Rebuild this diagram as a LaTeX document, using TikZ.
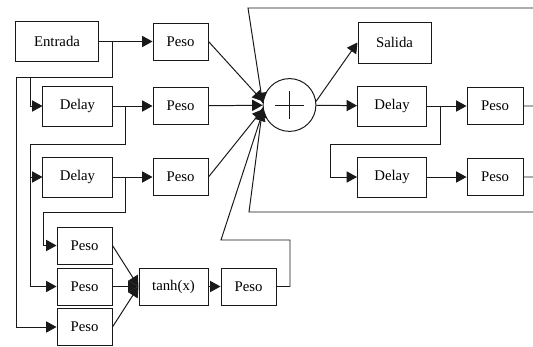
\documentclass[tikz,border=0pt]{standalone}
\usepackage{fontspec}
\setmainfont{Liberation Serif}
\usetikzlibrary{arrows.meta}
\usetikzlibrary{positioning}

\begin{document}
\begin{tikzpicture}[x=0.025cm,y=-0.025cm,
  caja/.style={draw=black!90,line width=0.7pt,inner sep=0pt,font=\fontsize{10.5}{12}\selectfont},
  peso/.style={caja,minimum width=1.375cm,minimum height=0.925cm},
  retardo/.style={caja,minimum width=1.725cm,minimum height=1cm},
  linea/.style={black!90,line width=0.7pt},
  flecha/.style={linea,-{Triangle[length=2.6mm,width=2.8mm]}}]
\clip (0,0) rectangle (533,347);
\fill[white] (0,0) rectangle (533,347);

\node[caja,minimum width=2.05cm,minimum height=1cm] (entrada) at (57,41.5) {Entrada};
\node[peso] (peso1) at (180.5,41.5) {Peso};
\node[retardo] (delay1) at (77.5,106) {Delay};
\node[peso] (peso2) at (180.5,106) {Peso};
\node[retardo] (delay2) at (77.5,177) {Delay};
\node[peso] (peso3) at (180.5,177) {Peso};
\node[peso] (peso4) at (84.5,245.5) {Peso};
\node[peso] (peso5) at (84.5,286.5) {Peso};
\node[peso] (peso6) at (84.5,327) {Peso};
\node[retardo,minimum height=0.925cm] (tanh) at (173.5,286.5) {tanh(x)};
\node[peso] (peso7) at (248.5,286.5) {Peso};
\node[circle,draw=black!90,line width=0.7pt,minimum size=1.32cm,inner sep=0pt] (suma) at (289.5,105) {};
\draw[linea] ([xshift=-0.35cm]suma.center) -- ([xshift=0.35cm]suma.center);
\draw[linea] ([yshift=-0.35cm]suma.center) -- ([yshift=0.35cm]suma.center);
\node[caja,minimum width=1.825cm,minimum height=1.025cm] (salida) at (394.5,42.5) {Salida};
\node[retardo] (delay3) at (392,106) {Delay};
\node[peso,minimum width=1.4cm] (peso8) at (495,106) {Peso};
\node[retardo] (delay4) at (392,177) {Delay};
\node[peso,minimum width=1.4cm] (peso9) at (495,177) {Peso};

% entrada y retardos
\coordinate (r1) at (112,41.5);
\coordinate (c0) at (16,77);
\coordinate (c1) at (30,77);
\draw[flecha] (entrada) -- (peso1);
\draw[linea] (r1) |- (c0);
\draw[flecha] (c1) |- (delay1.west);
\draw[flecha] (c0) |- (peso6.west);

\coordinate (r2) at (125,106);
\coordinate (c2) at (30,144);
\draw[flecha] (delay1) -- (peso2);
\draw[linea] (r2) |- (c2);
\draw[flecha] (c2) |- (delay2.west);
\draw[flecha] (c2) |- (peso5.west);

\coordinate (r3) at (125,177);
\coordinate (c3) at (43,212);
\draw[flecha] (delay2) -- (peso3);
\draw[linea] (r3) |- (c3);
\draw[flecha] (c3) |- (peso4.west);

% capa oculta
\draw[flecha] (peso4.east) -- (tanh.west);
\draw[flecha] (peso5.east) -- (tanh.west);
\draw[flecha] (peso6.east) -- (tanh.west);
\draw[flecha] (tanh) -- (peso7);
\coordinate (c4) at (290,240);
\coordinate (c5) at (221,240);
\draw[flecha] (peso7.east) -| (c4) -- (c5) -- (suma.192);

% suma
\draw[flecha] (peso1.east) -- (suma.172);
\draw[flecha] (peso2) -- (suma);
\draw[flecha] (peso3.east) -- (suma.189);

% salida y realimentacion
\draw[flecha] (suma.8) -- (salida.west);
\draw[flecha] (suma) -- (delay3);
\draw[flecha] (delay3) -- (peso8);
\coordinate (r4) at (440,106);
\coordinate (c6) at (330,144);
\draw[linea] (r4) |- (c6);
\draw[flecha] (c6) |- (delay4.west);
\draw[flecha] (delay4) -- (peso9);

\coordinate (f1) at (545,8);
\coordinate (f2) at (248,8);
\draw[flecha] (peso8.east) -| (f1) -- (f2) -- (suma.176);
\coordinate (f3) at (545,212);
\coordinate (f4) at (249,212);
\draw[flecha] (peso9.east) -| (f3) -- (f4) -- (suma.185);

\end{tikzpicture}
\end{document}
